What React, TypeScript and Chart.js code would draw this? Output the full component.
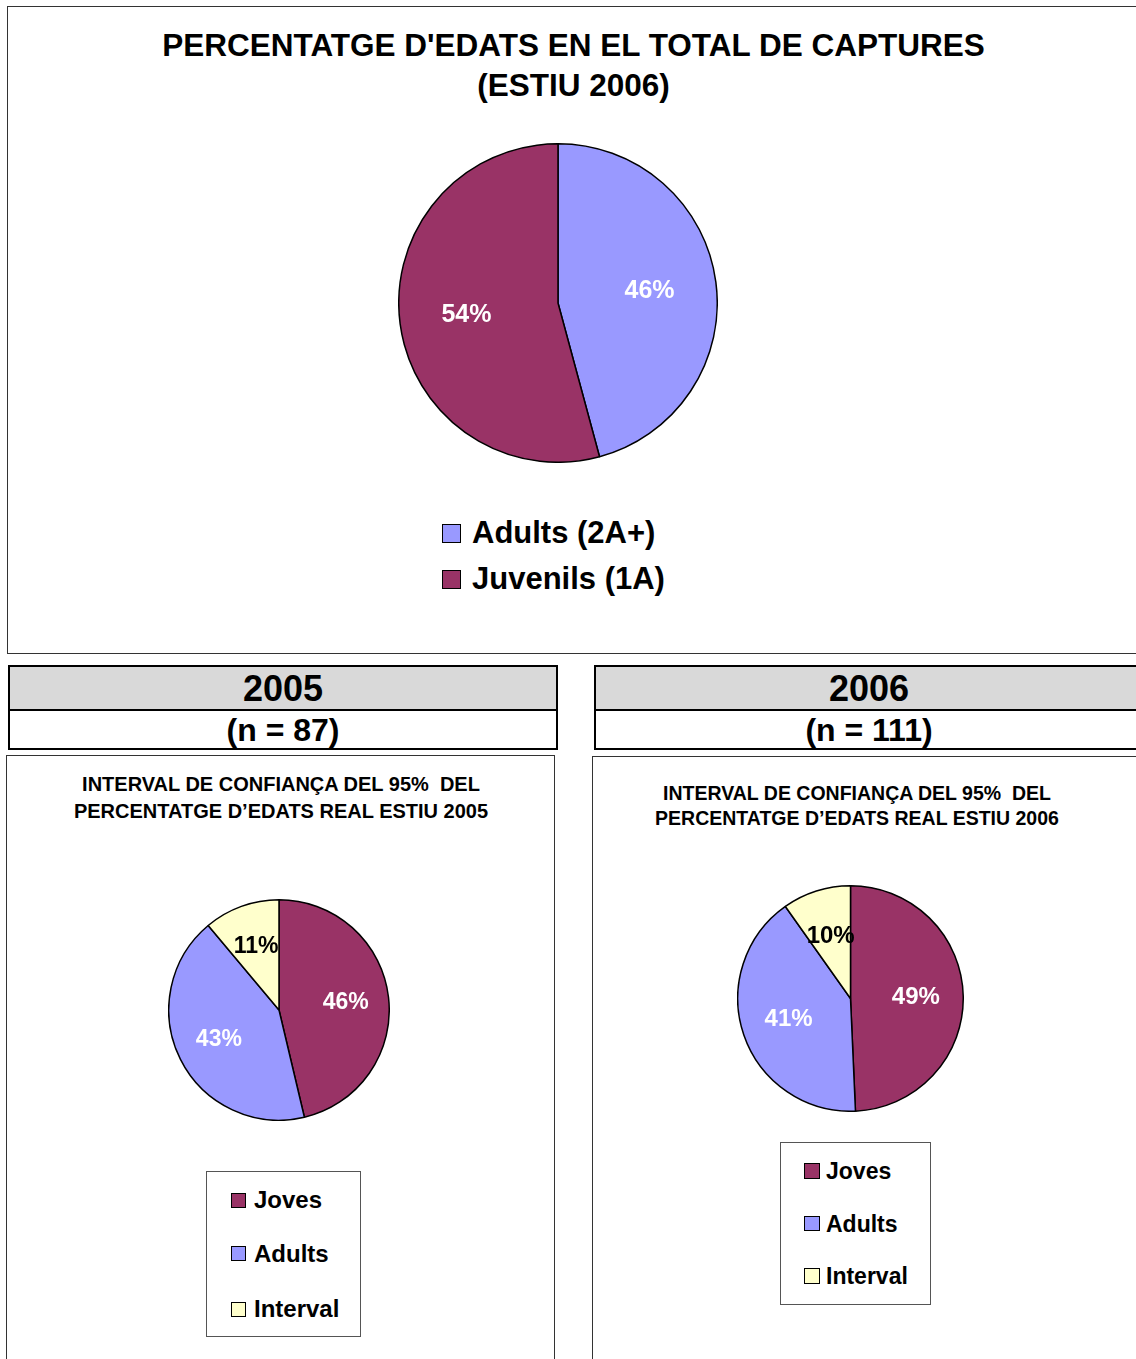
import React, { useEffect, useRef } from "react";
import { Chart, registerables } from "chart.js";

Chart.register(...registerables);

// ---------- DATA ----------
const topLabels = ["Adults (2A+)", "Juvenils (1A)"];
const topValues = [45.8, 54.2];
const topColors = ["#9999FF", "#993366"];
const topLabelColors = ["#FFFFFF", "#FFFFFF"];

const ciLabels = ["Joves", "Adults", "Interval"];
const ci2005Values = [46.3, 42.6, 11.1];
const ci2006Values = [49.3, 40.9, 9.8];
const ciColors = ["#993366", "#9999FF", "#FFFFCC"];
const ciLabelColors = ["#FFFFFF", "#FFFFFF", "#000000"];

const FONT = "'Liberation Sans', Arial, Helvetica, sans-serif";

const pctLabelPlugin = {
  id: "pctLabels",
  afterDatasetsDraw(chart: any, _args: any, opts: any) {
    const ctx = chart.ctx;
    const meta = chart.getDatasetMeta(0);
    const data = chart.data.datasets[0].data as number[];
    const total = data.reduce((a: number, b: number) => a + b, 0);
    ctx.save();
    ctx.font = `bold ${opts.size}px ${FONT}`;
    ctx.textAlign = "center";
    ctx.textBaseline = "middle";
    meta.data.forEach((arc: any, i: number) => {
      const p = arc.getProps(["x", "y", "startAngle", "endAngle", "outerRadius"], true);
      const mid = (p.startAngle + p.endAngle) / 2;
      const r = p.outerRadius * (opts.frac || 0.6);
      const x = p.x + Math.cos(mid) * r;
      const y = p.y + Math.sin(mid) * r;
      ctx.fillStyle = (opts.colors && opts.colors[i]) || "#fff";
      ctx.fillText(Math.round((data[i] / total) * 100) + "%", x, y);
    });
    ctx.restore();
  },
};

function Pie(props: {
  labels: string[];
  values: number[];
  colors: string[];
  labelColors: string[];
  size: number;
  fontSize: number;
  frac: number;
  style: React.CSSProperties;
}) {
  const ref = useRef<HTMLCanvasElement>(null);
  useEffect(() => {
    const chart = new Chart(ref.current as HTMLCanvasElement, {
      type: "pie",
      data: {
        labels: props.labels,
        datasets: [
          {
            data: props.values,
            backgroundColor: props.colors,
            borderColor: "#000000",
            borderWidth: 1.5,
          },
        ],
      },
      options: {
        animation: false,
        responsive: false,
        events: [],
        layout: { padding: 0 },
        plugins: {
          legend: { display: false },
          tooltip: { enabled: false },
          title: { display: false },
          pctLabels: { size: props.fontSize, frac: props.frac, colors: props.labelColors },
        } as any,
      },
      plugins: [pctLabelPlugin],
    });
    return () => chart.destroy();
  }, []);
  return (
    <canvas
      ref={ref}
      width={props.size}
      height={props.size}
      style={{ position: "absolute", width: props.size, height: props.size, ...props.style }}
    />
  );
}

function Legend(props: {
  labels: string[];
  colors: string[];
  left: number;
  centers: number[];
  textLeft: number;
  sq: number;
  fontSize: number;
}) {
  return (
    <>
      {props.labels.map((l, i) => (
        <React.Fragment key={l}>
          <div
            style={{
              position: "absolute",
              left: props.left,
              top: props.centers[i] - props.sq / 2,
              width: props.sq,
              height: props.sq,
              boxSizing: "border-box",
              border: "1.5px solid #000",
              background: props.colors[i],
            }}
          />
          <div
            style={{
              position: "absolute",
              left: props.textLeft,
              top: props.centers[i] - 20,
              height: 40,
              lineHeight: "40px",
              fontSize: props.fontSize,
              fontWeight: "bold",
              whiteSpace: "nowrap",
              color: "#000",
            }}
          >
            {l}
          </div>
        </React.Fragment>
      ))}
    </>
  );
}

function Box(props: { left: number; top: number; width: number; height: number; border: string; bg?: string }) {
  return (
    <div
      style={{
        position: "absolute",
        left: props.left,
        top: props.top,
        width: props.width,
        height: props.height,
        boxSizing: "border-box",
        border: props.border,
        background: props.bg || "transparent",
      }}
    />
  );
}

function CenterText(props: { cx: number; cy: number; size: number; lh: number; lines: string[] }) {
  return (
    <div
      style={{
        position: "absolute",
        left: props.cx - 600,
        width: 1200,
        top: props.cy - props.lh / 2,
        textAlign: "center",
        fontSize: props.size,
        fontWeight: "bold",
        lineHeight: props.lh + "px",
        whiteSpace: "pre",
        color: "#000",
      }}
    >
      {props.lines.map((l) => (
        <div key={l}>{l}</div>
      ))}
    </div>
  );
}

export default function App() {
  return (
    <div
      style={{
        position: "absolute",
        left: 0,
        top: 0,
        width: 1136,
        height: 1359,
        overflow: "hidden",
        background: "#fff",
        fontFamily: FONT,
      }}
    >
      {/* Top chart */}
      <Box left={7} top={6} width={1145} height={648} border="1.5px solid #333" />
      <CenterText cx={573.5} cy={45} size={31.5} lh={40} lines={["PERCENTATGE D'EDATS EN EL TOTAL DE CAPTURES", "(ESTIU 2006)"]} />
      <Pie
        labels={topLabels}
        values={topValues}
        colors={topColors}
        labelColors={topLabelColors}
        size={320}
        fontSize={25}
        frac={0.58}
        style={{ left: 398, top: 143 }}
      />
      <Legend labels={topLabels} colors={topColors} left={442} centers={[533, 579]} textLeft={472} sq={19} fontSize={31} />

      {/* Headers */}
      <Box left={8} top={665} width={550} height={46} border="2.5px solid #000" bg="#D9D9D9" />
      <Box left={8} top={709} width={550} height={41} border="2.5px solid #000" />
      <CenterText cx={283} cy={689} size={36} lh={44} lines={["2005"]} />
      <CenterText cx={283} cy={730} size={32} lh={40} lines={["(n = 87)"]} />

      <Box left={594} top={665} width={560} height={46} border="2.5px solid #000" bg="#D9D9D9" />
      <Box left={594} top={709} width={560} height={41} border="2.5px solid #000" />
      <CenterText cx={869} cy={689} size={36} lh={44} lines={["2006"]} />
      <CenterText cx={869} cy={730} size={32} lh={40} lines={["(n = 111)"]} />

      {/* Bottom-left chart */}
      <Box left={6} top={755} width={549} height={620} border="1.5px solid #333" />
      <CenterText cx={281} cy={784} size={20} lh={27} lines={["INTERVAL DE CONFIANÇA DEL 95%  DEL", "PERCENTATGE D\u2019EDATS REAL ESTIU 2005"]} />
      <Pie
        labels={ciLabels}
        values={ci2005Values}
        colors={ciColors}
        labelColors={ciLabelColors}
        size={222}
        fontSize={23}
        frac={0.61}
        style={{ left: 168, top: 899 }}
      />
      <Box left={206} top={1171} width={155} height={166} border="1.5px solid #555" />
      <Legend labels={ciLabels} colors={ciColors} left={231} centers={[1200, 1253.5, 1309]} textLeft={254} sq={15} fontSize={24} />

      {/* Bottom-right chart */}
      <Box left={592} top={756} width={560} height={620} border="1.5px solid #333" />
      <CenterText cx={857} cy={793} size={19.5} lh={25} lines={["INTERVAL DE CONFIANÇA DEL 95%  DEL", "PERCENTATGE D\u2019EDATS REAL ESTIU 2006"]} />
      <Pie
        labels={ciLabels}
        values={ci2006Values}
        colors={ciColors}
        labelColors={ciLabelColors}
        size={227}
        fontSize={24}
        frac={0.58}
        style={{ left: 737, top: 885 }}
      />
      <Box left={780} top={1142} width={151} height={163} border="1.5px solid #555" />
      <Legend labels={ciLabels} colors={ciColors} left={804} centers={[1171, 1223.5, 1276]} textLeft={826} sq={15.5} fontSize={23} />
    </div>
  );
}
